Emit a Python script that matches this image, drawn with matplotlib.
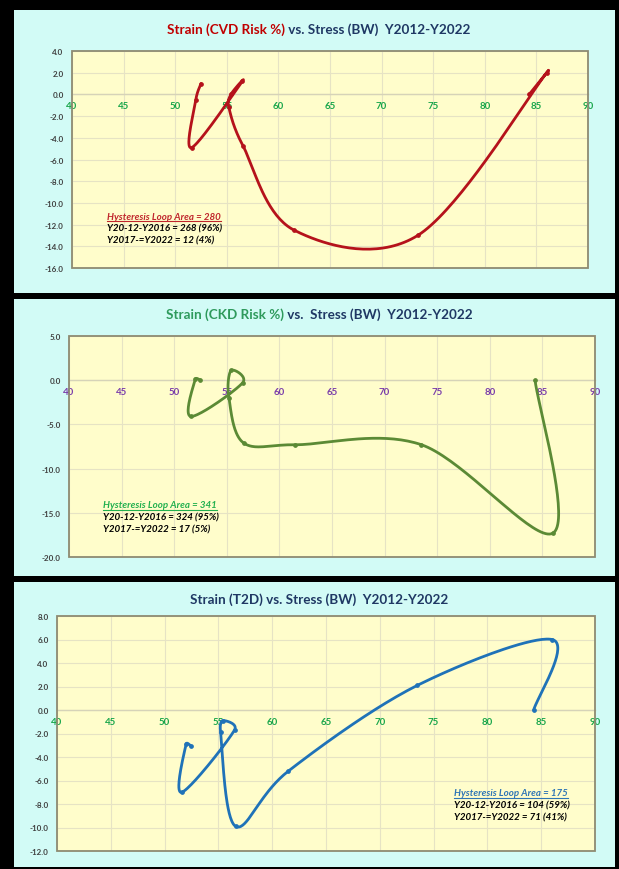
import numpy as np
import matplotlib
matplotlib.use("Agg")
import matplotlib.pyplot as plt
from matplotlib.patches import Rectangle
from matplotlib.lines import Line2D

# ---------------- data ----------------
years = list(range(2012, 2023))
bw = [84.3, 86.0, 73.5, 61.5, 56.6, 55.2, 55.4, 56.5, 51.6, 52.0, 52.5]
cvd_risk = [0.0, 2.0, -13.0, -12.5, -4.8, -1.2, 0.0, 1.2, -4.9, -0.5, 1.0]
ckd_risk = [0.0, -17.3, -7.3, -7.3, -7.1, -2.0, 1.1, -0.3, -4.1, 0.1, 0.0]
t2d_risk = [0.0, 6.0, 2.1, -5.2, -9.9, -1.9, -0.9, -1.7, -7.0, -2.9, -3.1]

x_ticks = [40, 45, 50, 55, 60, 65, 70, 75, 80, 85, 90]
cvd_yticks = [4, 2, 0, -2, -4, -6, -8, -10, -12, -14, -16]
ckd_yticks = [5, 0, -5, -10, -15, -20]
t2d_yticks = [8, 6, 4, 2, 0, -2, -4, -6, -8, -10, -12]

cvd_notes = ["Hysteresis Loop Area = 280", "Y20-12-Y2016 = 268 (96%)", "Y2017-=Y2022 = 12 (4%)"]
ckd_notes = ["Hysteresis Loop Area = 341", "Y20-12-Y2016 = 324 (95%)", "Y2017-=Y2022 = 17 (5%)"]
t2d_notes = ["Hysteresis Loop Area = 175", "Y20-12-Y2016 = 104 (59%)", "Y2017-=Y2022 = 71 (41%)"]

W, H = 619, 870
FONT = "Lato"
NAVY = "#1F3864"

fig = plt.figure(figsize=(W / 100, H / 100), dpi=100)
fig.patch.set_facecolor("black")


def fx(px):
    return px / W


def fy(py):
    return 1 - py / H


def excel_smooth(ax, x, y, n=40):
    """Excel-like smoothed line: Bezier segments, control arms = |P(i+1)-P(i-1)|/6
    capped at half the segment length (computed in screen space)."""
    pts = ax.transData.transform(np.column_stack([x, y]).astype(float))
    P = np.vstack([pts[0], pts, pts[-1]])
    t = np.linspace(0, 1, n)[:, None]
    out = []
    for i in range(1, len(P) - 2):
        p0, p1, p2, p3 = P[i - 1], P[i], P[i + 1], P[i + 2]
        d12 = np.linalg.norm(p2 - p1)
        a1 = (p2 - p0) / 6.0
        a2 = (p3 - p1) / 6.0
        for a in (a1, a2):
            la = np.linalg.norm(a)
            if la > d12 / 2 and la > 0:
                a *= (d12 / 2) / la
        c1 = p1 + a1
        c2 = p2 - a2
        seg = ((1 - t) ** 3) * p1 + 3 * ((1 - t) ** 2) * t * c1 + 3 * (1 - t) * t**2 * c2 + t**3 * p2
        out.append(seg if i == 1 else seg[1:])
    c = ax.transData.inverted().transform(np.vstack(out))
    return c[:, 0], c[:, 1]


# panel backgrounds (drawn beneath everything)
bg = fig.add_axes([0, 0, 1, 1], zorder=-10)
bg.set_xlim(0, W)
bg.set_ylim(H, 0)
bg.axis("off")
for (top, bot) in [(11, 294), (300, 577), (583, 868)]:
    bg.add_patch(Rectangle((14, top), 615 - 14, bot - top, facecolor="#D2FBF6",
                           edgecolor="none"))

panels = [
    dict(box=(72, 52, 588, 269), ylim=(-16, 4), yticks=cvd_yticks, y=cvd_risk,
         color="#B5121B", xcol="#19A64B", notes=cvd_notes, ncol="#C0262C",
         npos=(107, 217), title=[("Strain (CVD Risk %)", "#C00000"),
                                 (" vs. Stress (BW)  Y2012-Y2022", NAVY)], ty=30),
    dict(box=(69, 337, 595, 558), ylim=(-20, 5), yticks=ckd_yticks, y=ckd_risk,
         color="#5B8A35", xcol="#7A3DAA", notes=ckd_notes, ncol="#22B04F",
         npos=(103, 506), title=[("Strain (CKD Risk %)", "#2E9A5C"),
                                 (" vs.  Stress (BW)  Y2012-Y2022", NAVY)], ty=315),
    dict(box=(57, 617, 595, 852), ylim=(-12, 8), yticks=t2d_yticks, y=t2d_risk,
         color="#1F72B8", xcol="#19A64B", notes=t2d_notes, ncol="#2E75B6",
         npos=(454, 794), title=[("Strain (T2D) vs. Stress (BW)  Y2012-Y2022", NAVY)], ty=600),
]

fig.canvas.draw()
renderer = fig.canvas.get_renderer()

for p in panels:
    l, t, r, b = p["box"]
    ax = fig.add_axes([fx(l), fy(b), fx(r) - fx(l), fy(t) - fy(b)], zorder=1)
    ax.set_facecolor("#FFFDCB")
    ax.set_xlim(40, 90)
    ax.set_ylim(*p["ylim"])
    for s in ["top", "right", "left"]:
        ax.spines[s].set_visible(False)
    ax.spines["bottom"].set_position(("data", 0))
    ax.spines["bottom"].set_color("#D6D3B8")
    ax.spines["bottom"].set_linewidth(1.0)
    ax.add_patch(Rectangle((0, 0), 1, 1, transform=ax.transAxes, fill=False,
                           edgecolor="#8E8B72", linewidth=1.3, zorder=5, clip_on=False))
    ax.set_xticks(x_ticks)
    ax.set_xticklabels([str(v) for v in x_ticks], fontsize=7, fontweight="bold",
                       color=p["xcol"], family=FONT)
    ax.set_yticks(p["yticks"])
    ax.set_yticklabels([f"{v:.1f}" for v in p["yticks"]], fontsize=5.8, fontweight="bold",
                       color="#404040", family=FONT)
    ax.tick_params(axis="x", length=0, pad=5)
    ax.tick_params(axis="y", length=0, pad=6)
    ax.grid(True, color="#E6E3C4", linewidth=0.8)
    ax.set_axisbelow(True)

    sx, sy = excel_smooth(ax, bw, p["y"])
    ax.plot(sx, sy, color=p["color"], linewidth=2.0, solid_capstyle="round",
            solid_joinstyle="round", zorder=3)
    ax.plot(bw, p["y"], linestyle="none", marker="o", markersize=2.4,
            color=p["color"], zorder=4)

    # notes
    nx, ny = p["npos"]
    for i, line in enumerate(p["notes"]):
        col = p["ncol"] if i == 0 else "black"
        txt = fig.text(fx(nx), fy(ny + i * 11.8), line, fontsize=7, fontweight="bold",
                       style="italic", color=col, family=FONT, ha="left", va="center",
                       zorder=10)
        if i == 0:
            bb = txt.get_window_extent(renderer=renderer)
            yline = bb.y0 - 0.5
            fig.lines.append(Line2D([bb.x0 / W, bb.x1 / W], [yline / H, yline / H],
                                    transform=fig.transFigure, color=col, linewidth=0.8,
                                    zorder=10))

    # title (multi-coloured), centred near x=318
    parts = []
    widths = []
    for s, c in p["title"]:
        tx = fig.text(0, fy(p["ty"]), s, fontsize=9.7, fontweight="bold", color=c,
                      family=FONT, ha="left", va="center", zorder=10)
        parts.append(tx)
        widths.append(tx.get_window_extent(renderer=renderer).width)
    total = sum(widths)
    start = 319 - total / 2
    for tx, w in zip(parts, widths):
        tx.set_x(fx(start))
        start += w

fig.savefig("out.png", dpi=100, facecolor=fig.get_facecolor())
